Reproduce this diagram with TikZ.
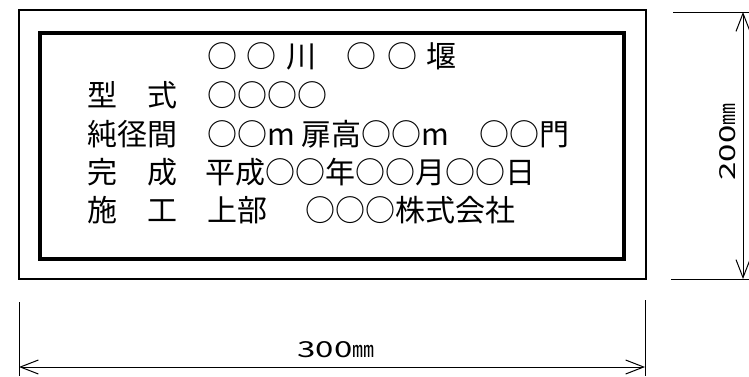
\documentclass[tikz,border=0pt]{standalone}
\usepackage{fontspec}
\setmainfont{Noto Sans CJK JP}
\usetikzlibrary{arrows.meta}
\newcommand\wdigits[1]{\scalebox{1.5}[1]{#1}}

\begin{document}
\begin{tikzpicture}[x=1pt,y=-1pt,>={Straight Barb[length=18pt,width=14pt]},
	txt/.style={anchor=west,inner sep=0pt,font=\fontsize{30}{36}\selectfont},
	dimlbl/.style={inner sep=0pt,font=\fontsize{22}{26}\selectfont}]
	\useasboundingbox (0,0) rectangle (749,376);
	\coordinate (A) at (19,10);
	\coordinate (B) at (646,279);
	\coordinate (C) at (40,33);
	\coordinate (D) at (624,259);
	\draw [line width=1.3pt] (A) rectangle (B);
	\draw [line width=3.5pt] (C) rectangle (D);
	\node [txt,anchor=center] (title) at (332,56) {○\hspace{10pt}○\hspace{10pt}川　○\hspace{10pt}○\hspace{10pt}堰};
	\node [txt] (k1) at (87,95)  {型　式};
	\node [txt] (v1) at (207,95) {○○○○};
	\node [txt] (k2) at (87,134)  {純径間};
	\node [txt] (v2) at (207,134) {○○m 扉高○○m　○○門};
	\node [txt] (k3) at (87,172)  {完　成};
	\node [txt] (v3) at (205,172) {平成○○年○○月○○日};
	\node [txt] (k4) at (87,210)  {施　工};
	\node [txt] (v4) at (207,210) {上部　\hspace{8pt}○○○株式会社};
	\coordinate (E) at (673,12);
	\coordinate (F) at (749,12);
	\coordinate (G) at (671,279);
	\coordinate (H) at (749,279);
	\coordinate (P) at (743,12);
	\coordinate (Q) at (743,279);
	\draw [line width=1pt] (E) -- (F);
	\draw [line width=1pt] (G) -- (H);
	\draw [line width=1pt,<->] (P) -- (Q);
	\node [dimlbl,rotate=90] (hgt) at (728,142) {\wdigits{200}㎜};
	\coordinate (L1) at (19,302);
	\coordinate (L2) at (19,376);
	\coordinate (R1) at (645,300);
	\coordinate (R2) at (645,376);
	\coordinate (M1) at (19,367);
	\coordinate (M2) at (645,367);
	\draw [line width=1pt] (L1) -- (L2);
	\draw [line width=1pt] (R1) -- (R2);
	\draw [line width=1pt,<->] (M1) -- (M2);
	\node [dimlbl] (wid) at (336,350) {\wdigits{300}㎜};
\end{tikzpicture}
\end{document}
